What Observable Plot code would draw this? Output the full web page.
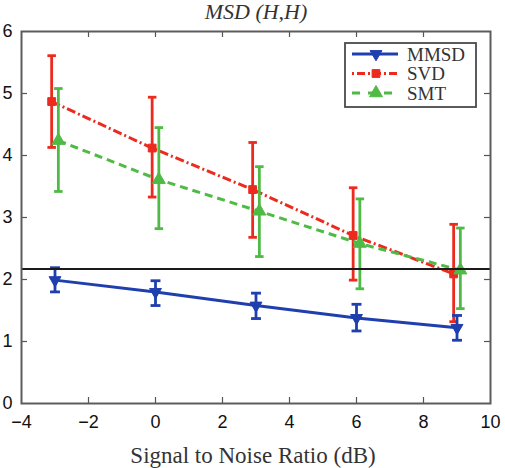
<!DOCTYPE html>
<html>
<head>
<meta charset="utf-8">
<script src="https://cdn.jsdelivr.net/npm/d3@7"></script>
<script src="https://cdn.jsdelivr.net/npm/@observablehq/plot@0.6"></script>
<style>
  body { margin: 0; background: #fff; }
  #chart svg { display: block; }
</style>
</head>
<body>
<div id="chart"></div>
<script>
// Mean squared deviation vs. SNR, with error bars (low / high)
const snr = [-3, 0, 3, 6, 9];

const mmsdMean = [1.99, 1.80, 1.58, 1.38, 1.22];
const mmsdLow  = [1.80, 1.58, 1.37, 1.17, 1.02];
const mmsdHigh = [2.19, 1.98, 1.78, 1.60, 1.42];

const svdMean = [4.87, 4.12, 3.45, 2.71, 2.09];
const svdLow  = [4.13, 3.33, 2.68, 1.99, 1.32];
const svdHigh = [5.61, 4.94, 4.21, 3.48, 2.89];

const smtMean = [4.24, 3.61, 3.10, 2.58, 2.15];
const smtLow  = [3.42, 2.82, 2.37, 1.85, 1.53];
const smtHigh = [5.08, 4.45, 3.82, 3.30, 2.83];

const referenceLevel = 2.17;

const seriesNames = ["MMSD", "SVD", "SMT"];
const xTicks = [-4, -2, 0, 2, 4, 6, 8, 10];
const yTicks = [0, 1, 2, 3, 4, 5, 6];
const titleText = "MSD (H,H)";
const xLabel = "Signal to Noise Ratio (dB)";

// ---- styling ----
const W = 505, H = 468;
const M = {top: 31, right: 15, bottom: 65, left: 21};
const innerW = W - M.left - M.right;
const innerH = H - M.top - M.bottom;
const serif = "'Liberation Serif', 'Times New Roman', serif";
const sans = "'Liberation Sans', Arial, Helvetica, sans-serif";
const intFormat = d3.format("d");

// horizontal error-bar cap
const capSymbol = {
  draw(ctx, size) {
    const w = Math.sqrt(size);
    ctx.moveTo(-w / 2, 0);
    ctx.lineTo(w / 2, 0);
  }
};

const styles = {
  MMSD: {color: "#1f3fae", dash: null, symbol: "triangle", rotate: 180, r: 4.4, dodge: 0, cap: 5.6},
  SVD:  {color: "#ec2a1e", dash: "9,3,2,3", symbol: "square", rotate: 0, r: 4.4, dodge: -0.1, cap: 4.8},
  SMT:  {color: "#4fba45", dash: "8,5", symbol: "triangle", rotate: 0, r: 4.8, dodge: 0.1, cap: 4.8}
};

const source = {
  MMSD: [mmsdMean, mmsdLow, mmsdHigh],
  SVD:  [svdMean, svdLow, svdHigh],
  SMT:  [smtMean, smtLow, smtHigh]
};

function rowsFor(name) {
  const [mean, low, high] = source[name];
  return snr.map((s, i) => ({series: name, x: s + styles[name].dodge, mean: mean[i], low: low[i], high: high[i]}));
}

function seriesMarks(name) {
  const st = styles[name];
  const rows = rowsFor(name);
  return [
    Plot.line(rows, {x: "x", y: "mean", stroke: st.color, strokeWidth: 3, strokeDasharray: st.dash, strokeLinecap: "butt"}),
    Plot.ruleX(rows, {x: "x", y1: "low", y2: "high", stroke: st.color, strokeWidth: 2.8}),
    Plot.dot(rows, {x: "x", y: "low", symbol: capSymbol, r: st.cap, stroke: st.color, strokeWidth: 2.8}),
    Plot.dot(rows, {x: "x", y: "high", symbol: capSymbol, r: st.cap, stroke: st.color, strokeWidth: 2.8}),
    Plot.dot(rows, {x: "x", y: "mean", symbol: st.symbol, r: st.r, fill: st.color, stroke: st.color, strokeWidth: 1, rotate: st.rotate})
  ];
}

const innerXTicks = xTicks.slice(1, -1);
const innerYTicks = yTicks.slice(1, -1);
const tickLen = 6;

const chart = Plot.plot({
  width: W,
  height: H,
  marginTop: M.top,
  marginRight: M.right,
  marginBottom: M.bottom,
  marginLeft: M.left,
  style: {fontFamily: sans, fontSize: "18px", color: "#111", background: "#fff", overflow: "visible"},
  x: {domain: [-4, 10], ticks: xTicks},
  y: {domain: [0, 6], ticks: yTicks},
  marks: [
    ...seriesMarks("SVD"),
    ...seriesMarks("SMT"),
    ...seriesMarks("MMSD"),
    Plot.ruleY([referenceLevel], {stroke: "#1a1a1a", strokeWidth: 2}),
    // inward ticks on all four sides
    Plot.ruleX(innerXTicks, {x: d => d, insetTop: innerH - tickLen, stroke: "#555", strokeWidth: 1.2}),
    Plot.ruleX(innerXTicks, {x: d => d, insetBottom: innerH - tickLen, stroke: "#555", strokeWidth: 1.2}),
    Plot.ruleY(innerYTicks, {y: d => d, insetRight: innerW - tickLen, stroke: "#555", strokeWidth: 1.2}),
    Plot.ruleY(innerYTicks, {y: d => d, insetLeft: innerW - tickLen, stroke: "#555", strokeWidth: 1.2}),
    Plot.frame({stroke: "#5c5c5c", strokeWidth: 2}),
    Plot.axisX({ticks: xTicks, tickSize: 0, tickPadding: 12, label: null, tickFormat: d => intFormat(d).replace("-", "\u2212")}),
    Plot.axisY({ticks: yTicks, tickSize: 0, tickPadding: 9, label: null, tickFormat: d => intFormat(d)}),
    Plot.text([titleText], {frameAnchor: "top", lineAnchor: "middle", dy: -20, text: d => d, fontFamily: serif, fontStyle: "italic", fontSize: 22, fill: "#333"}),
    Plot.text([xLabel], {frameAnchor: "bottom", lineAnchor: "middle", dy: 52, dx: -3, text: d => d, fontFamily: serif, fontSize: 23, fill: "#333"})
  ]
});

document.getElementById("chart").append(chart);

// ---- legend (top-right, inside the frame) ----
const svg = d3.select(chart);
const lg = svg.append("g").attr("transform", "translate(345,43)");
lg.append("rect").attr("width", 131).attr("height", 64)
  .attr("fill", "#fff").attr("stroke", "#4a4a4a").attr("stroke-width", 1.8);
seriesNames.forEach((name, i) => {
  const st = styles[name];
  const y = 11 + i * 19.5;
  lg.append("line").attr("x1", 7).attr("x2", 53).attr("y1", y).attr("y2", y)
    .attr("stroke", st.color).attr("stroke-width", 3)
    .attr("stroke-dasharray", name === "SVD" ? "2,3,8,3" : name === "SMT" ? "8,8" : null);
  const sym = st.symbol === "square" ? d3.symbolSquare : d3.symbolTriangle;
  lg.append("path")
    .attr("d", d3.symbol(sym, Math.PI * st.r * st.r)())
    .attr("transform", `translate(31,${y}) rotate(${st.rotate})`)
    .attr("fill", st.color).attr("stroke", st.color);
  lg.append("text").attr("x", 62).attr("y", y).attr("dy", "0.35em")
    .attr("text-anchor", "start")
    .attr("font-family", serif).attr("font-size", 19).attr("fill", "#333")
    .text(name);
});
</script>
</body>
</html>
